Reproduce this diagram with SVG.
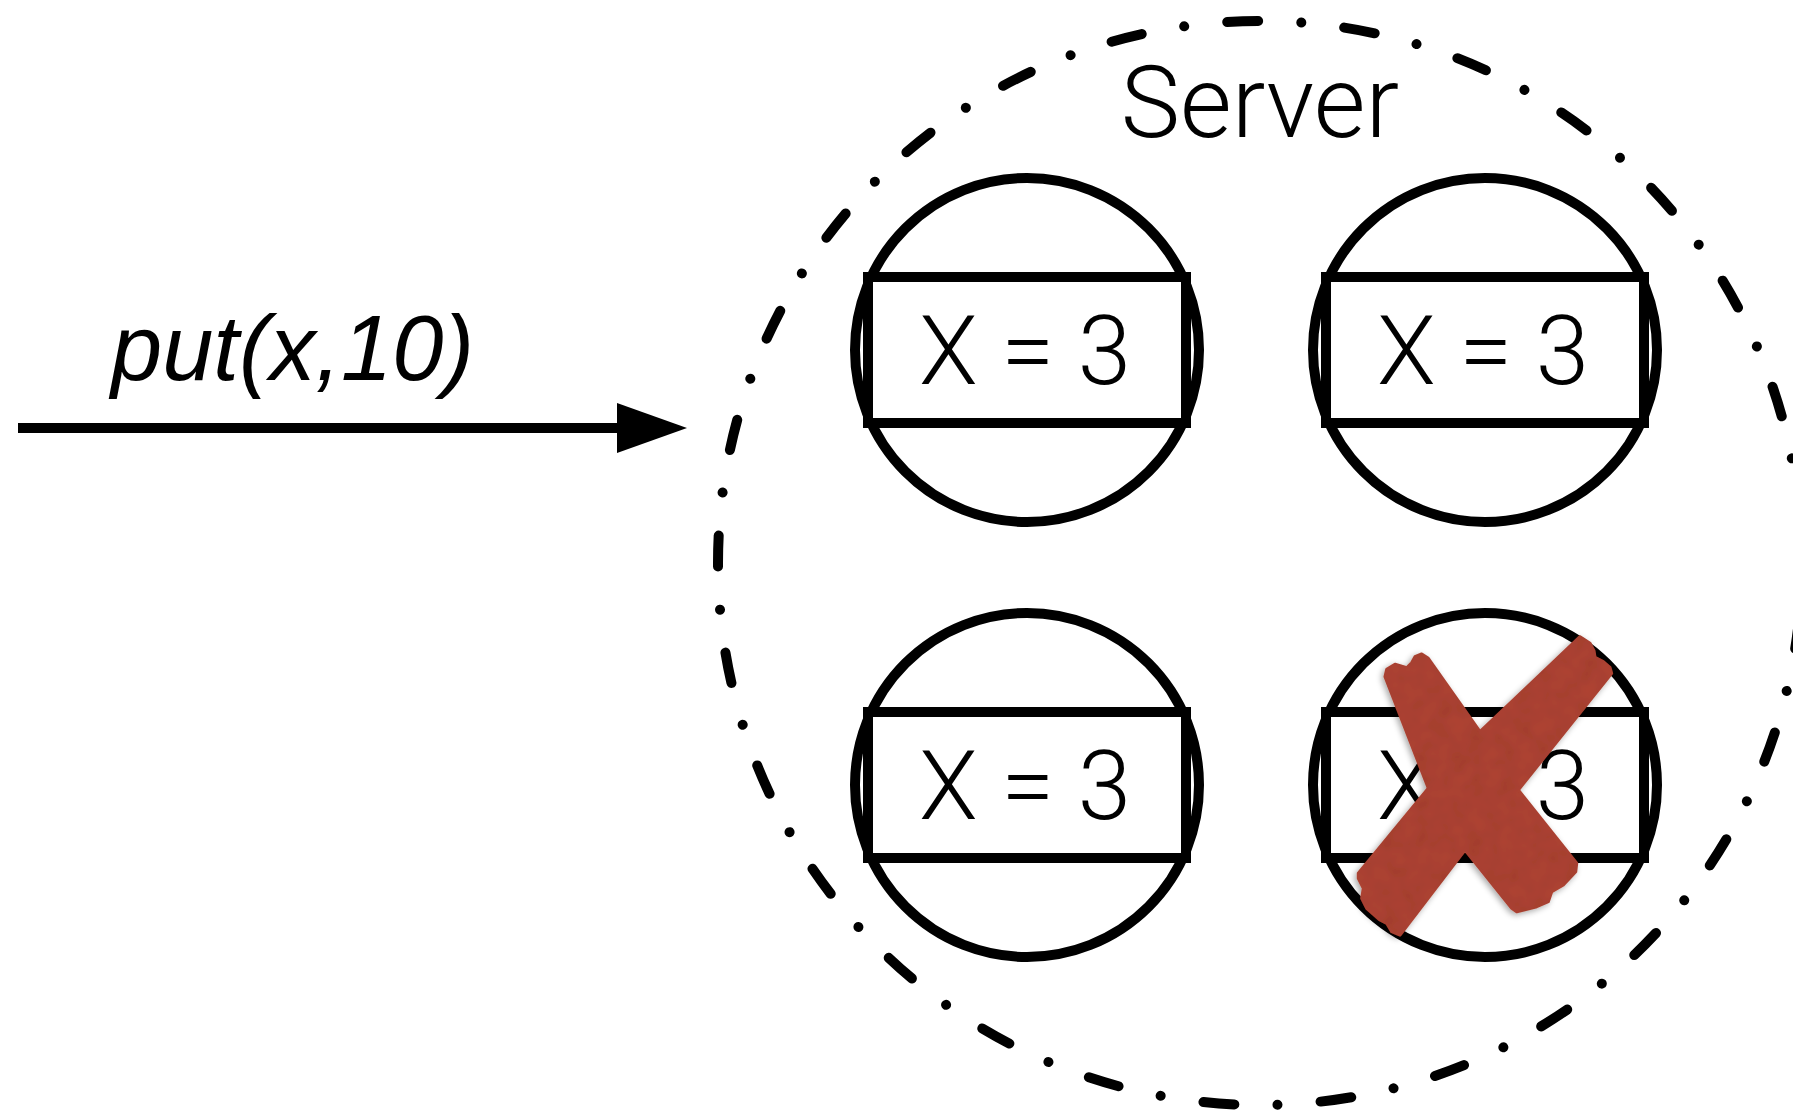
<svg xmlns="http://www.w3.org/2000/svg" width="1793" height="1111" viewBox="0 0 1793 1111">
  <style>
    .ring { fill: none; stroke: #000; stroke-width: 10; }
    .box { fill: #fff; stroke: #000; stroke-width: 10; }
    .val { font-family: Roboto, "Liberation Sans", sans-serif; font-weight: 300; font-size: 96px; fill: #000; text-anchor: middle; }
    .title { font-family: Roboto, "Liberation Sans", sans-serif; font-weight: 300; font-size: 100px; fill: #000; text-anchor: middle; }
    .call { font-family: "Liberation Sans", Arial, sans-serif; font-style: italic; font-size: 92px; fill: #000; }
    .server { fill: none; stroke: #000; stroke-width: 10; stroke-linecap: round; stroke-dasharray: 31 43.22 0.01 43.2; stroke-dashoffset: 62.46; }
    .tape { fill: #b04535; stroke: #b04535; stroke-width: 3; stroke-linejoin: round; }
  </style>
  <defs>
    <filter id="tapeShadow" x="-10%" y="-10%" width="120%" height="120%">
      <feTurbulence type="fractalNoise" baseFrequency="0.06" numOctaves="2" seed="4" result="noise"/>
      <feColorMatrix in="noise" type="matrix" values="0 0 0 0 0  0 0 0 0 0  0 0 0 0 0  0 0 0 0.18 0" result="grain"/>
      <feComposite in="grain" in2="SourceGraphic" operator="in" result="grainIn"/>
      <feMerge result="textured">
        <feMergeNode in="SourceGraphic"/>
        <feMergeNode in="grainIn"/>
      </feMerge>
      <feGaussianBlur in="SourceAlpha" stdDeviation="3" result="blur"/>
      <feOffset in="blur" dx="-2" dy="2" result="off"/>
      <feComponentTransfer in="off" result="shadow">
        <feFuncA type="linear" slope="0.35"/>
      </feComponentTransfer>
      <feMerge>
        <feMergeNode in="shadow"/>
        <feMergeNode in="textured"/>
      </feMerge>
    </filter>
    <!-- one replica: ring with the value box across it -->
    <g id="replicaShape">
      <circle class="ring" cx="0" cy="0" r="172"/>
      <rect class="box" x="-159" y="-73" width="318" height="146"/>
    </g>
  </defs>

  <!-- server boundary, dash-dot circle -->
  <g id="server">
    <path class="server" d="M 1802 563 A 542 542 0 1 1 718 563 A 542 542 0 1 1 1802 563 Z"/>
    <text class="title" x="1260" y="137">Server</text>
  </g>

  <g id="replica-1" transform="translate(1027,350)">
    <use href="#replicaShape"/>
    <text class="val" x="-2" y="34">X = 3</text>
  </g>
  <g id="replica-2" transform="translate(1485,350)">
    <use href="#replicaShape"/>
    <text class="val" x="-2" y="34">X = 3</text>
  </g>
  <g id="replica-3" transform="translate(1027,785)">
    <use href="#replicaShape"/>
    <text class="val" x="-2" y="34">X = 3</text>
  </g>
  <g id="replica-4" transform="translate(1485,785)">
    <use href="#replicaShape"/>
    <text class="val" x="-2" y="34">X = 3</text>
  </g>

  <!-- failed replica: red tape cross -->
  <g id="failure-mark" filter="url(#tapeShadow)">
    <polygon class="tape" points="1385,676.7 1386.7,669.3 1395,664.3 1406.7,667.7 1411.7,662.7 1415,656.7 1421.7,654 1428.3,658.3 1480,731.7 1518.3,790 1576.7,863.3 1575.7,871.7 1563.3,885 1551.7,891.7 1548.3,901.7 1536.7,906.7 1516.7,911.7 1511.7,908.3 1465,850 1428.3,788.3"/>
    <polygon class="tape" points="1358.3,873.3 1428.3,788.3 1480,731.7 1580,636.7 1590,643.3 1594,650.7 1595,657.3 1603.3,661.7 1610,667.3 1611.7,673.3 1518.3,790 1465,850 1400,935 1391.7,931.7 1386.7,923.3 1380,920 1366.7,908.3 1361.7,898.3 1363.3,888.3 1358.3,878.3"/>
  </g>

  <!-- request arrow -->
  <g id="connectors">
    <line x1="18" y1="428" x2="620" y2="428" stroke="#000" stroke-width="10"/>
    <polygon points="617,403 687,428 617,453" fill="#000"/>
    <text class="call" x="111" y="380">put(x,10)</text>
  </g>
</svg>
